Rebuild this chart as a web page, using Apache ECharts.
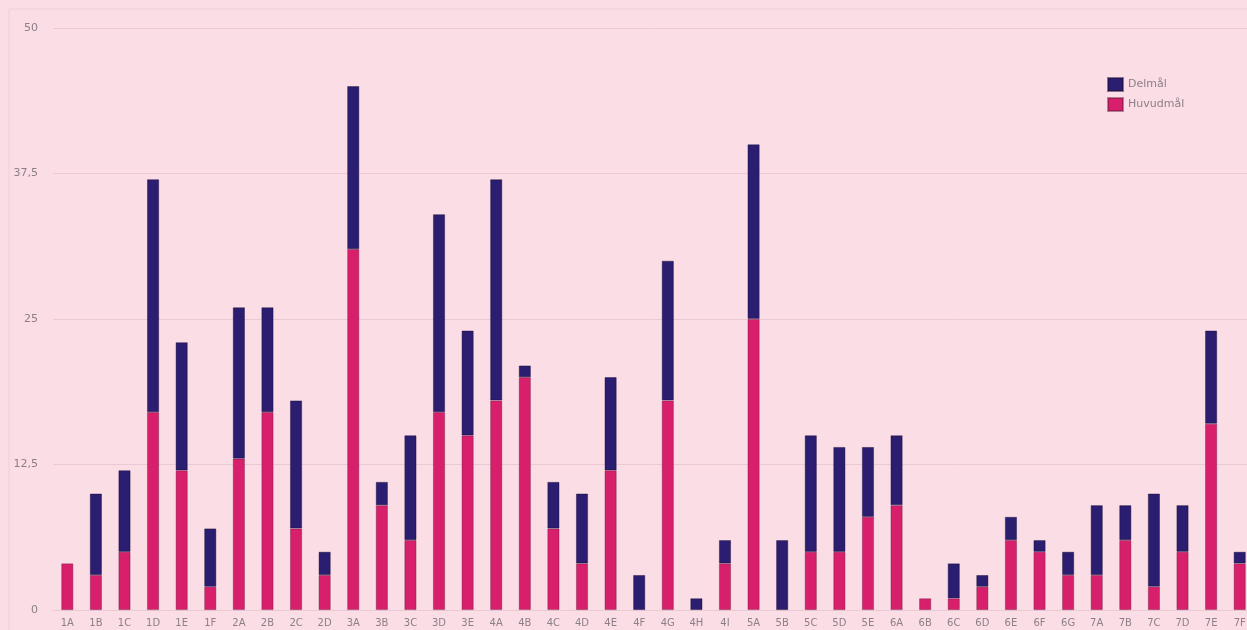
<!DOCTYPE html>
<html>
<head>
<meta charset="utf-8">
<title>Mål per område</title>
<script src="https://cdn.jsdelivr.net/npm/echarts@6/dist/echarts.min.js"></script>
<style>
html,body{margin:0;padding:0;background:#fbdde6;overflow:hidden;}
/* diagrammet är bredare än fönstret, sista stapeln klipps som i originalet */
#main{width:1262px;height:630px;}
</style>
</head>
<body>
<div id="main"></div>
<script>
// kategorier och värden
var categories = ['1A','1B','1C','1D','1E','1F','2A','2B','2C','2D','3A','3B','3C','3D','3E',
  '4A','4B','4C','4D','4E','4F','4G','4H','4I','5A','5B','5C','5D','5E',
  '6A','6B','6C','6D','6E','6F','6G','7A','7B','7C','7D','7E','7F'];
var huvudmal = [4,3,5,17,12,2,13,17,7,3,31,9,6,17,15,
  18,20,7,4,12,0,18,0,4,25,0,5,5,8,
  9,1,1,2,6,5,3,3,6,2,5,16,4];
var delmal = [0,7,7,20,11,5,13,9,11,2,14,2,9,17,9,
  19,1,4,6,8,3,12,1,2,15,6,10,9,6,
  6,0,3,1,2,1,2,6,3,8,4,8,1];
var yTicks = [0, 12.5, 25, 37.5, 50];

var pink = '#d81f6c';
var navy = '#2b1d6f';
var textGray = '#8c7f86';
var lineCol = '#eac9d4';

// nollor ritas inte
function noZero(arr) {
  return arr.map(function (v) { return v === 0 ? '-' : v; });
}

var myChart = echarts.init(document.getElementById('main'));

var option = {
  backgroundColor: '#fbdde6',
  animation: false,
  textStyle: { fontFamily: 'DejaVu Sans' },
  graphic: [{
    type: 'rect',
    shape: { x: 9, y: 9, width: 1400, height: 800 },
    style: { fill: 'none', stroke: '#eed0da', lineWidth: 1 },
    silent: true
  }],
  legend: {
    orient: 'vertical',
    left: 1107,
    top: 77,
    padding: 0,
    itemWidth: 15,
    itemHeight: 13,
    itemGap: 5,
    icon: 'rect',
    data: ['Delmål', 'Huvudmål'],
    textStyle: { color: textGray, fontSize: 11 }
  },
  grid: { left: 53, right: 8, top: 28, bottom: 20 },
  xAxis: {
    type: 'category',
    data: categories,
    axisLine: { lineStyle: { color: lineCol } },
    axisTick: { show: false },
    axisLabel: { color: textGray, fontSize: 10, margin: 8, interval: 0 }
  },
  yAxis: {
    type: 'value',
    min: yTicks[0],
    max: yTicks[yTicks.length - 1],
    interval: 12.5,
    axisLine: { show: false },
    axisTick: { show: false },
    splitLine: { lineStyle: { color: lineCol, width: 1 } },
    axisLabel: {
      color: textGray, fontSize: 11, margin: 15,
      formatter: function (v) { return String(v).replace('.', ','); }
    }
  },
  series: [
    {
      name: 'Huvudmål',
      type: 'bar',
      stack: 'mal',
      data: noZero(huvudmal),
      barWidth: 12,
      itemStyle: { color: pink, borderColor: 'rgba(90,20,50,0.45)', borderWidth: 0.8 }
    },
    {
      name: 'Delmål',
      type: 'bar',
      stack: 'mal',
      data: noZero(delmal),
      barWidth: 12,
      itemStyle: { color: navy, borderColor: 'rgba(20,10,50,0.5)', borderWidth: 0.8 }
    }
  ]
};

myChart.setOption(option, true);
</script>
</body>
</html>
